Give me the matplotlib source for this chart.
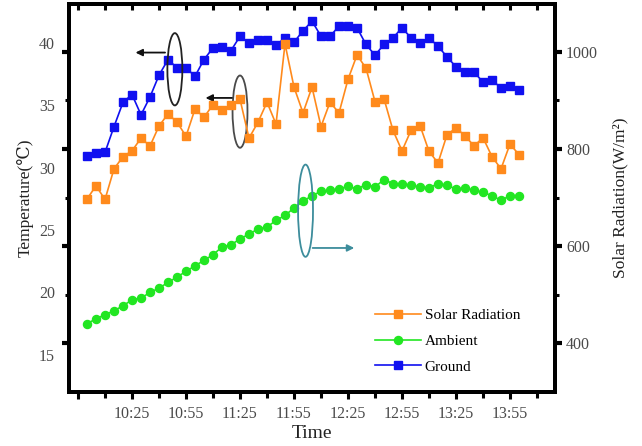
import numpy as np
import matplotlib
matplotlib.use('Agg')
import matplotlib.pyplot as plt
from matplotlib.patches import Ellipse

plt.rcParams['font.family'] = ['Liberation Serif', 'DejaVu Serif']

# time in minutes after midnight, one reading every 5 min from 10:00 to 14:00
minutes = np.arange(600, 845, 5)

solar = [697, 724, 696, 759, 784, 796, 822, 806, 847, 872,
         855, 826, 882, 865, 891, 879, 891, 902, 822, 855,
         896, 851, 1016, 927, 874, 927, 846, 896, 874, 943,
         993, 966, 897, 903, 838, 796, 838, 848, 795, 771,
         829, 843, 827, 806, 823, 784, 759, 810, 788]

ambient = [17.48, 17.88, 18.20, 18.52, 18.92, 19.40, 19.54, 19.99, 20.34, 20.79,
           21.23, 21.68, 22.13, 22.56, 23.02, 23.64, 23.82, 24.28, 24.68, 25.08,
           25.24, 25.77, 26.17, 26.77, 27.30, 27.76, 28.10, 28.18, 28.30, 28.50,
           28.30, 28.64, 28.46, 29.04, 28.72, 28.70, 28.58, 28.46, 28.38, 28.72,
           28.58, 28.30, 28.38, 28.18, 28.02, 27.76, 27.38, 27.76, 27.76]

ground = [30.90, 31.19, 31.23, 33.30, 35.25, 35.87, 34.24, 35.68, 37.42, 38.68,
          38.01, 38.01, 37.34, 38.68, 39.62, 39.70, 39.40, 40.55, 40.02, 40.21,
          40.21, 39.83, 40.42, 40.07, 40.99, 41.76, 40.55, 40.55, 41.36, 41.36,
          41.23, 39.89, 39.03, 39.89, 40.42, 41.23, 40.42, 39.97, 40.42, 39.75,
          38.90, 38.09, 37.69, 37.69, 36.86, 37.02, 36.41, 36.54, 36.27]

x_major = np.arange(595, 845, 30)
x_minor = np.arange(610, 860, 30)
x_labels = [''] + ['%d:%02d' % (m // 60, m % 60) for m in x_major[1:]]
temp_ticks = [15, 20, 25, 30, 35, 40]

c_solar = '#FF8A1C'
c_amb = '#22E622'
c_ground = '#1010F0'
tick_col = '#4a4a4a'

fig = plt.figure(figsize=(6.42, 4.46), dpi=100)
ax1 = fig.add_axes([0.1075, 0.121, 0.757, 0.869])
ax2 = ax1.twinx()

l_amb, = ax1.plot(minutes, ambient, '-o', color=c_amb, ms=5.8, lw=1.2, label='Ambient')
l_gr, = ax1.plot(minutes, ground, '-s', color=c_ground, ms=5.8, lw=1.2, label='Ground')
l_sol, = ax2.plot(minutes, solar, '-s', color=c_solar, ms=5.5, lw=1.2, label='Solar Radiation')

ax1.set_xlim(590, 860)
ax1.set_ylim(12.0, 43.1)
ax2.set_ylim(300, 1097)

ax1.set_xticks(x_major)
ax1.set_xticklabels(x_labels)
ax1.set_xticks(x_minor, minor=True)
ax1.tick_params(axis='x', which='major', direction='out', length=5, width=2.2, labelsize=11.5,
                labelcolor=tick_col, pad=5)
ax1.tick_params(axis='x', which='minor', direction='out', length=4, width=2.2)

# left labels sit on their own, the tick marks come from the right scale
ax1.set_yticks(temp_ticks)
ax1.tick_params(axis='y', which='major', length=0, labelsize=11.5, labelcolor=tick_col, pad=10)

ax2.set_yticks([400, 600, 800, 1000])
ax2.set_yticks([500, 700, 900], minor=True)
ax2.tick_params(axis='y', which='major', left=True, right=True, direction='out', length=5,
                width=3, labelsize=11.5, labelcolor=tick_col, pad=3)
ax2.tick_params(axis='y', which='minor', left=True, right=True, direction='out', length=3, width=2.2)

top = ax1.secondary_xaxis('top')
top.set_xticks(x_major)
top.set_xticklabels([])
top.set_xticks(x_minor, minor=True)
top.tick_params(axis='x', which='both', direction='in', length=4, width=2.2)

for a in (ax1, ax2, top):
    for s in a.spines.values():
        s.set_linewidth(2.8)

ax1.set_xlabel('Time', fontsize=14, color='#222222', labelpad=2)
ax1.set_ylabel('Temperature(℃)', fontsize=12.5, color='#222222', labelpad=4)
ax2.set_ylabel('Solar Radiation(W/m²)', fontsize=12.5, color='#222222', labelpad=10)

# ellipses with arrows marking which axis each curve belongs to
ell_specs = [(648.8, 37.9, 8.3, 5.8, '#222222'),
             (685.0, 34.5, 8.3, 5.8, '#4a4a4a'),
             (721.4, 26.55, 8.3, 7.4, '#3d8d9c')]
for cx, cy, w, h, col in ell_specs:
    ax1.add_patch(Ellipse((cx, cy), w, h, fill=False, ec=col, lw=1.3, zorder=5))

arrow_specs = [(644.9, 625.4, 39.24, '#111111'),
               (682.1, 664.3, 35.6, '#111111'),
               (723.8, 750.0, 23.56, '#3d8d9c')]
for x0, x1, yy, col in arrow_specs:
    ax1.annotate('', xy=(x1, yy), xytext=(x0, yy),
                 arrowprops=dict(arrowstyle='-|>', color=col, lw=1.3, mutation_scale=10),
                 zorder=6)

ax1.legend([l_sol, l_amb, l_gr], ['Solar Radiation', 'Ambient', 'Ground'],
           loc='upper left', bbox_to_anchor=(0.63, 0.215), frameon=False, fontsize=11,
           borderpad=0, borderaxespad=0, handlelength=3.0, handletextpad=0.25,
           labelspacing=0.78)

fig.savefig('out.png', dpi=100)
